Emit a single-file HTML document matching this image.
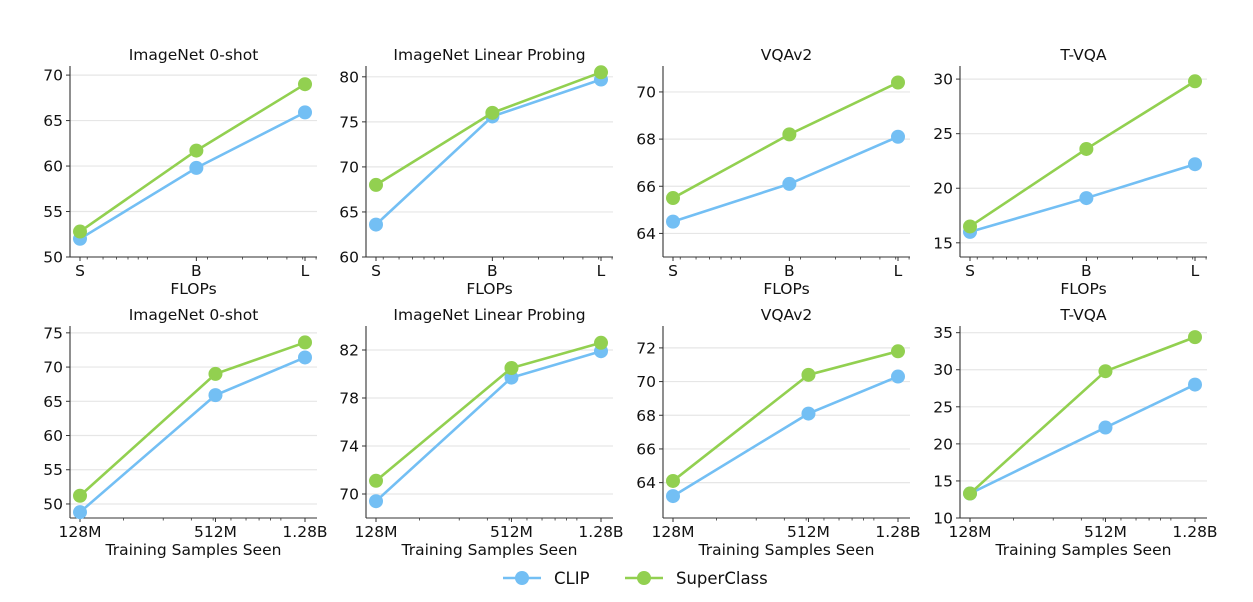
<!DOCTYPE html>
<html><head><meta charset="utf-8">
<style>
body{margin:0;background:#fff;}
svg text{font-family:"DejaVu Sans","Liberation Sans",sans-serif;fill:#111;}
</style></head>
<body>
<svg id="fig" width="1253" height="597" viewBox="0 0 1253 597" xmlns="http://www.w3.org/2000/svg"></svg>
<script>
const titles = ["ImageNet 0-shot","ImageNet Linear Probing","VQAv2","T-VQA"];
const flopsLabels = ["S","B","L"];
const flopsValues = [4.6, 17.6, 61.6];
const samplesLabels = ["128M","512M","1.28B"];
const samplesValues = [128, 512, 1280];
const topClip = [[52.0,59.8,65.9],[63.6,75.6,79.7],[64.5,66.1,68.1],[16.0,19.1,22.2]];
const topSuper = [[52.8,61.7,69.0],[68.0,76.0,80.5],[65.5,68.2,70.4],[16.5,23.6,29.8]];
const botClip = [[48.8,65.9,71.4],[69.4,79.7,81.9],[63.2,68.1,70.3],[13.3,22.2,28.0]];
const botSuper = [[51.2,69.0,73.6],[71.1,80.5,82.6],[64.1,70.4,71.8],[13.3,29.8,34.4]];
const topTicks = [[50,55,60,65,70],[60,65,70,75,80],[64,66,68,70],[15,20,25,30]];
const botTicks = [[50,55,60,65,70,75],[70,74,78,82],[64,66,68,70,72],[10,15,20,25,30,35]];
const topYlim = [[50,71],[60,81.2],[63,71.1],[13.7,31.2]];
const botYlim = [[47.95,76],[68,84],[61.9,73.3],[10,35.9]];

const NS="http://www.w3.org/2000/svg";
const svg=document.getElementById('fig');
const BLUE="#73bff4", GREEN="#92d050";
function mk(tag,attrs,parent){const e=document.createElementNS(NS,tag);for(const k in attrs)e.setAttribute(k,attrs[k]);(parent||svg).appendChild(e);return e;}

const lefts=[70,366,663,960], W=247;
function panel(i,row){
  const top=row===0?66:326, bot=row===0?257:518;
  const g=mk('g',{});
  
  
  const L=lefts[i], R=L+W;
  const xv=row===0?flopsValues:samplesValues, xl=row===0?flopsLabels:samplesLabels;
  const lx0=Math.log10(xv[0]), lx2=Math.log10(xv[2]);
  const sx=v=>80+(L-70)+(Math.log10(v)-lx0)/(lx2-lx0)*225;
  const yl=row===0?topYlim[i]:botYlim[i];
  const sy=v=>bot-(v-yl[0])/(yl[1]-yl[0])*(bot-top);
  const ticks=row===0?topTicks[i]:botTicks[i];
  ticks.forEach(t=>{
    const y=sy(t);
    const gl=mk('line',{x1:L,x2:R,y1:y,y2:y,stroke:'#e6e6e6','stroke-width':1.2},g);
    
    
    mk('line',{x1:L-4,x2:L,y1:y,y2:y,stroke:'#333','stroke-width':1},g);
    const tx=mk('text',{x:L-7,y:y+5.5,'text-anchor':'end','font-size':15.5},g);
    tx.textContent=t;
    
    
  });
  const xmin=Math.pow(10,lx0+(L-(80+(L-70)))/225*(lx2-lx0)), xmax=Math.pow(10,lx0+(R-(80+(L-70)))/225*(lx2-lx0));
  for(let d=Math.floor(Math.log10(xmin));d<=Math.ceil(Math.log10(xmax));d++){
    for(let m=1;m<10;m++){const v=m*Math.pow(10,d);if(v>xmin&&v<xmax){const x=sx(v);mk('line',{x1:x,x2:x,y1:bot,y2:bot+2.5,stroke:'#333','stroke-width':0.8},g);}}
  }
  xv.forEach((v,k)=>{
    const x=sx(v);
    mk('line',{x1:x,x2:x,y1:bot,y2:bot+4,stroke:'#333','stroke-width':1},g);
    const tx=mk('text',{x:x,y:bot+19,'text-anchor':'middle','font-size':15.5},g);
    tx.textContent=xl[k];
    
    
  });
  mk('line',{x1:L,x2:L,y1:top,y2:bot,stroke:'#333','stroke-width':1.1},g);
  mk('line',{x1:L,x2:R,y1:bot,y2:bot,stroke:'#333','stroke-width':1.1},g);
  const t=mk('text',{x:(L+R)/2,y:top-6,'text-anchor':'middle','font-size':15.5},g);
  t.textContent=titles[i];
  
  
  const xa=mk('text',{x:(L+R)/2,y:bot+37,'text-anchor':'middle','font-size':15.5},g);
  xa.textContent=row===0?'FLOPs':'Training Samples Seen';
  
  
  const series=[[row===0?topClip[i]:botClip[i],BLUE,'clip'],[row===0?topSuper[i]:botSuper[i],GREEN,'superclass']];
  series.forEach(([vals,c,nm])=>{
    const pts=vals.map((v,k)=>sx(xv[k])+','+sy(v)).join(' ');
    const pl=mk('polyline',{points:pts,fill:'none',stroke:c,'stroke-width':2.6},g);
    
    
    vals.forEach((v,k)=>{
      const ci=mk('circle',{cx:sx(xv[k]),cy:sy(v),r:7,fill:c},g);
      
      
    });
  });
}
for(let i=0;i<4;i++){panel(i,0);panel(i,1);}
const lg=mk('g',{});


[[503,BLUE,'CLIP'],[625,GREEN,'SuperClass']].forEach(([x,c,n])=>{
  mk('line',{x1:x,x2:x+38,y1:578,y2:578,stroke:c,'stroke-width':2.6},lg);
  mk('circle',{cx:x+19,cy:578,r:7,fill:c},lg);
  const t=mk('text',{x:x+51,y:584,'font-size':16.5},lg);
  t.textContent=n;
  
  
});
</script>
</body></html>
